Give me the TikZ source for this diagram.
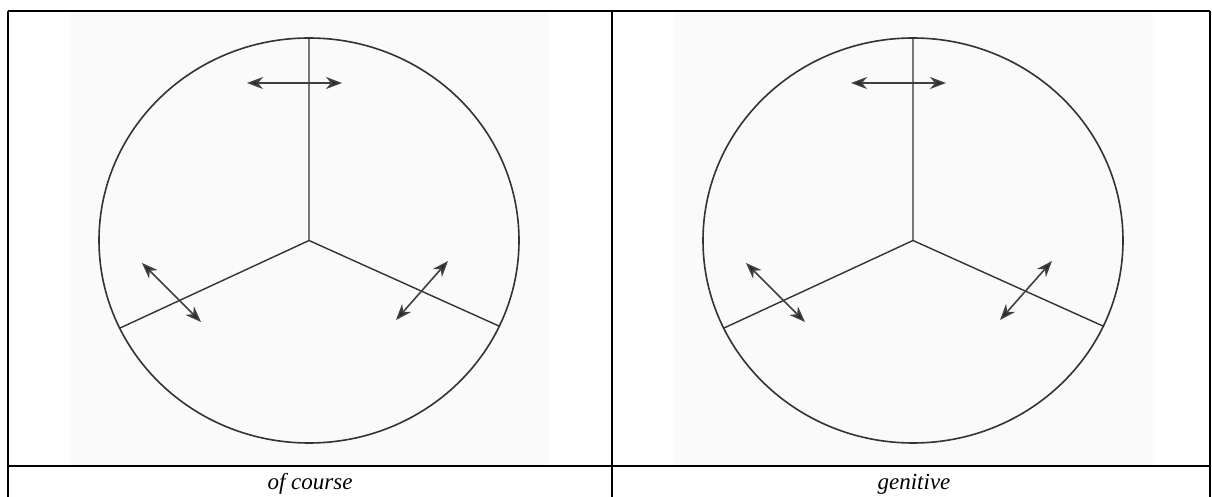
\documentclass[tikz,border=0pt]{standalone}
\usepackage{fontspec}
\setmainfont{Liberation Serif}
\usepackage{tikz}
\usetikzlibrary{arrows.meta}

\tikzset{
    rim/.style={draw=black!80, line width=0.8pt},
    spoke/.style={draw=black!80, line width=0.7pt},
    shove/.style={draw=black!75, line width=0.8pt,
        {Stealth[length=8pt,width=6pt,inset=2.5pt,fill=black!85]}-{Stealth[length=8pt,width=6pt,inset=2.5pt,fill=black!85]}},
    rule/.style={draw=black, line width=1pt},
    scan/.style={fill=black!2},
    caption/.style={font=\itshape\fontsize{11.5}{13}\selectfont, inner sep=0pt}
}

\begin{document}
\begin{tikzpicture}[x=0.5pt, y=-0.5pt]
\useasboundingbox (0,0) rectangle (1212,497);
\begin{scope}
    \fill[scan] (70,12) rectangle (549,465);
    \coordinate (course-c) at (309,240.5);
    \coordinate (course-t) at (309,38);
    \coordinate (course-l) at (119,328.5);
    \coordinate (course-r) at (500,326.5);
    \draw[rim] (course-c) ellipse [x radius=210, y radius=202.5];
    \draw[spoke] (course-t) -- (course-c) -- (course-l);
    \draw[spoke] (course-c) -- (course-r);
    \coordinate (course-a1) at (247,83);
    \coordinate (course-a2) at (342,83);
    \coordinate (course-b1) at (142,263);
    \coordinate (course-b2) at (201,322);
    \coordinate (course-d1) at (448,261);
    \coordinate (course-d2) at (396,320);
    \draw[shove] (course-a1) -- (course-a2);
    \draw[shove] (course-b1) -- (course-b2);
    \draw[shove] (course-d1) -- (course-d2);
    \node[caption] (course-cap) at (310,484) {of course};
\end{scope}
\begin{scope}[shift={(604,0)}]
    \fill[scan] (70,12) rectangle (549,465);
    \coordinate (gen-c) at (309,240.5);
    \coordinate (gen-t) at (309,38);
    \coordinate (gen-l) at (119,328.5);
    \coordinate (gen-r) at (500,326.5);
    \draw[rim] (gen-c) ellipse [x radius=210, y radius=202.5];
    \draw[spoke] (gen-t) -- (gen-c) -- (gen-l);
    \draw[spoke] (gen-c) -- (gen-r);
    \coordinate (gen-a1) at (247,83);
    \coordinate (gen-a2) at (342,83);
    \coordinate (gen-b1) at (142,263);
    \coordinate (gen-b2) at (201,322);
    \coordinate (gen-d1) at (448,261);
    \coordinate (gen-d2) at (396,320);
    \draw[shove] (gen-a1) -- (gen-a2);
    \draw[shove] (gen-b1) -- (gen-b2);
    \draw[shove] (gen-d1) -- (gen-d2);
    \node[caption] (gen-cap) at (310,484) {genitive};
\end{scope}
\draw[rule] (8,11) -- (1210,11);
\draw[rule] (8,466) -- (1210,466);
\draw[rule] (8,11) -- (8,497);
\draw[rule] (612,11) -- (612,497);
\draw[rule] (1210,11) -- (1210,497);
\end{tikzpicture}
\end{document}
